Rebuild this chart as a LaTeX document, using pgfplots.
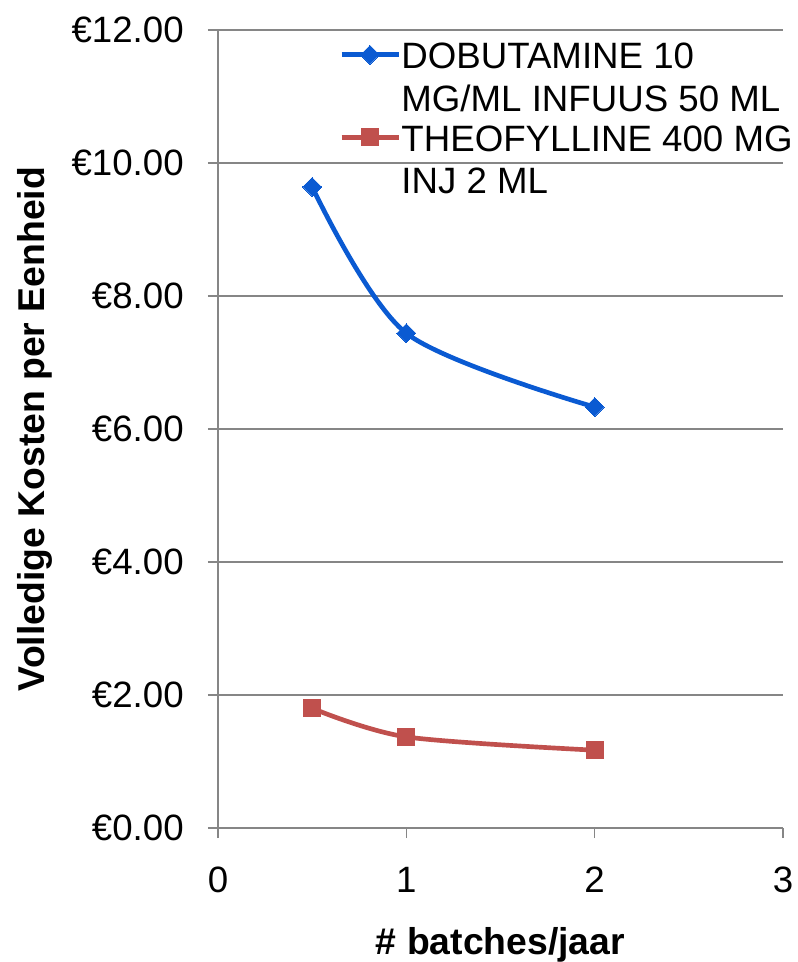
\documentclass[border=0pt]{standalone}
\usepackage{fontspec}
\setmainfont{Liberation Sans}
\usepackage{pgfplots}
\pgfplotsset{compat=1.18}

\definecolor{dobblue}{HTML}{0A5AD2}
\definecolor{theored}{HTML}{C0504D}
\definecolor{gridgray}{HTML}{868686}

\begin{document}
\begin{tikzpicture}[font=\fontsize{27.5}{32}\selectfont]
% page: 798x962 px, 1px = 0.75pt, axis box at origin
\useasboundingbox (-163.5pt,-100.5pt) rectangle (435pt,621pt);
\begin{axis}[
    scale only axis,
    width=423.75pt,
    height=598.5pt,
    /pgf/number format/assume math mode=true,
    xmin=0, xmax=3,
    ymin=0, ymax=12,
    xtick={0,1,2,3},
    ytick={0,2,4,6,8,10,12},
    axis x line*=bottom,
    axis y line*=left,
    axis line style={gridgray, line width=1.1pt, -},
    tick style={gridgray, line width=1.1pt},
    tick align=outside,
    major tick length=7.5pt,
    ymajorgrids,
    grid style={gridgray, line width=1.1pt},
    yticklabel={€\pgfmathprintnumber[fixed,fixed zerofill,precision=2]{\tick}},
    yticklabel style={anchor=east, inner sep=0pt, xshift=-18pt},
    xticklabel style={anchor=north, inner sep=0pt, yshift=-21.5pt},
    xlabel={\textbf{\# batches/jaar}},
    ylabel={\textbf{Volledige Kosten per Eenheid}},
    label style={font=\fontsize{28}{32}\selectfont},
    xlabel style={at={(axis description cs:0.5,-0.159)}, anchor=base},
    ylabel style={at={(axis description cs:-0.324,0.5)}, anchor=center},
    legend style={at={(axis description cs:0.214,0.99)}, anchor=north west,
        draw=none, fill=none, inner sep=0pt, row sep=37pt,
        nodes={inner sep=0.5pt}},
    legend cell align=left,
    legend image code/.code={
        \draw[mark repeat=2, mark phase=2] plot coordinates {(0cm,0cm) (0.75cm,0cm) (1.5cm,0cm)};
    },
]
\addplot[dobblue, line width=3.5pt, smooth, mark=square*, mark size=5pt,
    mark options={solid, rotate=45, line width=0pt}]
    coordinates {(0.5,9.64) (1,7.44) (2,6.33)};
\addlegendentry{\begin{tabular}[t]{@{}l@{}}DOBUTAMINE 10\\MG/ML INFUUS 50 ML\end{tabular}}
\addplot[theored, line width=3.5pt, smooth, mark=square*, mark size=6.3pt,
    mark options={solid, line width=0pt}]
    coordinates {(0.5,1.80) (1,1.37) (2,1.17)};
\addlegendentry{\begin{tabular}[t]{@{}l@{}}THEOFYLLINE 400 MG\\INJ 2 ML\end{tabular}}
\end{axis}
\end{tikzpicture}
\end{document}
